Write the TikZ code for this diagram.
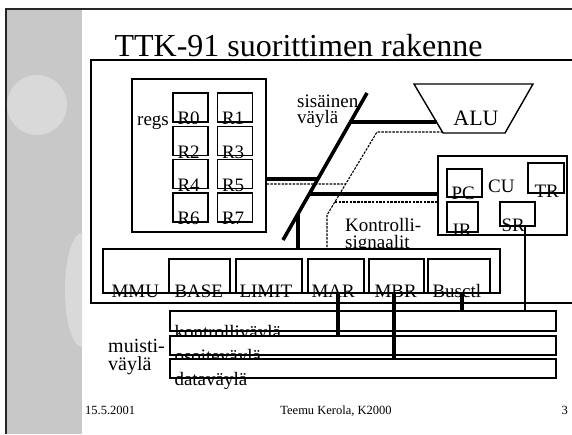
\documentclass[tikz,border=0pt]{standalone}
\usepackage{fontspec}
\setmainfont{Liberation Serif}
\usetikzlibrary{calc}

\definecolor{stripgray}{RGB}{200,200,200}
\definecolor{spotgray}{RGB}{217,217,217}

\begin{document}
\begin{tikzpicture}[x=1pt, y=-1pt,
	every node/.style={font=\fontsize{19}{21}\selectfont, inner sep=0pt},
	box/.style 2 args={draw, line width=1.4pt, fill=white, minimum width=#1, minimum height=#2},
	lbl/.style={anchor=base west},
	bus/.style={line width=3.6pt},
	ctl/.style={line width=1.1pt, dash pattern=on 2.5pt off 1.2pt},
	wire/.style={line width=1.4pt}]
	\useasboundingbox (0,0) rectangle (572,434);
	% slide background
	\fill[stripgray] (7,10) rectangle (82,434);
	\begin{scope}
		\clip (7,10) rectangle (82,434);
		\fill[spotgray] (37,105) circle (30);
		\fill[spotgray] (82,290) ellipse (17 and 57);
	\end{scope}
	\draw[line width=2pt, black!85] (572,9) -- (6,9) -- (6,434);
	\node[anchor=base, font=\fontsize{32}{34}\selectfont] (title) at (298.5,56) {TTK-91 suorittimen rakenne};
	\draw[line width=1.7pt] (572,60) -- (91,60) -- (91,303) -- (572,303);

	% registers
	\node[box={134}{153}] (regs) at (199,155.5) {};
	\node[lbl] at (137,125) {regs};
	\foreach \row in {0,...,3} {
		\pgfmathtruncatemacro{\ra}{2*\row}
		\pgfmathtruncatemacro{\rb}{2*\row+1}
		\node[box={35}{29}] (r\ra) at (190.5,{107.5+33.3*\row}) {};
		\node[lbl] at ([shift={(5,2)}]r\ra.south west) {R\ra};
		\node[box={35}{29}] (r\rb) at (235,{107.5+33.3*\row}) {};
		\node[lbl] at ([shift={(5,2)}]r\rb.south west) {R\rb};
	}

	% ALU
	\draw[wire] (414,84) -- (533,84) -- (505,133) -- (443,133) -- cycle;
	\node[font=\fontsize{22}{24}\selectfont, anchor=base] (alu) at (476,125) {ALU};
	\coordinate (alul) at (436.5,122);

	% control unit
	\node[box={129}{79}] (cu) at (502.5,195.5) {};
	\node[lbl] at (488,192) {CU};
	\node[box={35}{28}] (pc) at (464.5,183) {};
	\node[lbl] at ([shift={(5,2)}]pc.south west) {PC};
	\node[box={31}{30}] (ir) at (462.5,217) {};
	\node[lbl] at ([shift={(6,4)}]ir.south west) {IR};
	\node[box={36}{30}] (tr) at (546,178) {};
	\node[lbl] at ([shift={(7,4)}]tr.south west) {TR};
	\node[box={35}{24}] (sr) at (517.5,214) {};
	\node[lbl] at ([shift={(2,5)}]sr.south west) {SR};

	% internal bus
	\coordinate (bt) at (367,93);
	\coordinate (bb) at (283,240);
	\node[lbl] (sis) at (297,107) {sisäinen};
	\node[lbl] (vay) at (297,123) {väylä};
	\node[lbl] (kon) at (345,231) {Kontrolli-};
	\node[lbl] (sig) at (345,248) {signaalit};

	% MMU
	\node[box={397}{44}] (mmu) at (301.5,271) {};
	\node[lbl] at ([shift={(9,4)}]mmu.south west) {MMU};
	\node[box={61}{34}] (base) at (199.5,276) {};
	\node[lbl] at ([shift={(6,4)}]base.south west) {BASE};
	\node[box={66}{34}] (limit) at (269,276) {};
	\node[lbl] at ([shift={(4,4)}]limit.south west) {LIMIT};
	\node[box={56}{34}] (mar) at (336,276) {};
	\node[lbl] at ([shift={(4,4)}]mar.south west) {MAR};
	\node[box={55}{34}] (mbr) at (396.5,276) {};
	\node[lbl] at ([shift={(6,4)}]mbr.south west) {MBR};
	\node[box={62}{34}] (busctl) at (459,276) {};
	\node[lbl] at ([shift={(5,4)}]busctl.south west) {Busctl};

	\draw[bus] (bt) -- (bb);
	\coordinate (b1) at ($(bt)!0.197!(bb)$);
	\coordinate (b2) at ($(bt)!0.585!(bb)$);
	\coordinate (b3) at ($(bt)!0.687!(bb)$);
	\coordinate (b4) at ($(bt)!0.82!(bb)$);
	\draw[bus] (b1) -- (alul);
	\draw[bus] ($(regs.east)+(0,23.5)$) -- (b2);
	\draw[bus] (b3) -- (b3 -| cu.west);
	\draw[bus] (b4) -- (b4 |- mmu.north);

	% control signals
	\coordinate (c0) at (443,132);
	\coordinate (c1) at (377,132);
	\coordinate (c2) at (327,215);
	\coordinate (c3) at ($(c1)!0.627!(c2)$);
	\coordinate (c4) at ($(c1)!0.843!(c2)$);
	\draw[ctl] (c0) -- (c1) -- (c2) -- (c2 |- mmu.north);
	\draw[ctl] ($(regs.east)+(0,28.5)$) -- (c3);
	\draw[ctl] (c4) -- (c4 -| cu.west);

	% memory bus
	\node[lbl, font=\fontsize{20}{22}\selectfont] at (108,352) {muisti-};
	\node[lbl, font=\fontsize{20}{22}\selectfont] at (108,370) {väylä};
	\node[box={386}{20}] (kbus) at (363,321) {};
	\node[lbl] at ([shift={(5,7)}]kbus.south west) {kontrolliväylä};
	\node[box={386}{19}] (abus) at (363,345.5) {};
	\node[lbl] at ([shift={(5,7)}]abus.south west) {osoiteväylä};
	\node[box={386}{19}] (dbus) at (363,368.5) {};
	\node[lbl] at ([shift={(5,7)}]dbus.south west) {dataväylä};

	\draw[bus] ([xshift=2pt]mar.south) -- ([xshift=2pt]mar.south |- abus.north);
	\draw[bus] ([xshift=-2.5pt]mbr.south) -- ([xshift=-2.5pt]mbr.south |- dbus.north);
	\draw[bus] ([xshift=3pt]busctl.south) -- ([xshift=3pt]busctl.south |- kbus.north);
	\draw[wire] ([xshift=7.5pt]sr.south) -- ([xshift=7.5pt]sr.south |- kbus.north);

	% footer
	\node[lbl, font=\fontsize{12.5}{14}\selectfont] (date) at (85,414) {15.5.2001};
	\node[anchor=base, font=\fontsize{12.5}{14}\selectfont] (author) at (336,414) {Teemu Kerola, K2000};
	\node[anchor=base east, font=\fontsize{12.5}{14}\selectfont] (page) at (568,414) {3};
\end{tikzpicture}
\end{document}
